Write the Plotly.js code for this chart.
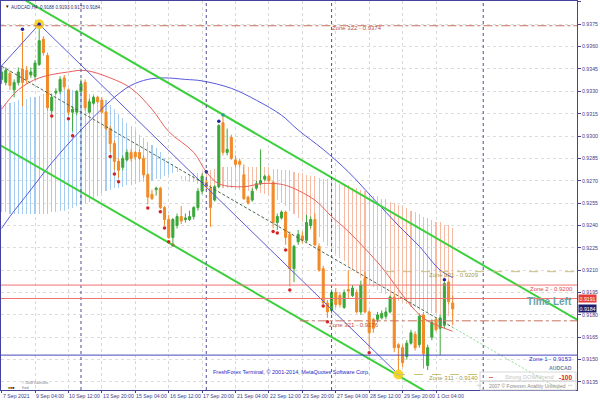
<!DOCTYPE html>
<html><head><meta charset="utf-8">
<script src="https://cdn.plot.ly/plotly-3.0.1.min.js"></script>
<style>html,body{margin:0;padding:0;background:#fff}#c{width:600px;height:401px}</style>
</head><body><div id="c"></div><script>
// ---- candles (AUDCAD H4), bar 0 = 7 Sep 2021 20:00 ----
const open=[0.9338,0.9336,0.9342,0.9331,0.9336,0.9345,0.9344,0.9341,0.9340,0.9348,
0.9365,0.9354,0.9317,0.9329,0.9330,0.9339,0.9331,0.9316,0.9316,0.9330,
0.9336,0.9316,0.9322,0.9326,0.9324,0.9316,0.9305,0.9295,0.9283,0.9279,
0.9284,0.9289,0.9289,0.9289,0.9285,0.9274,0.9261,0.9264,0.9265,0.9252,
0.9244,0.9232,0.9240,0.9246,0.9244,0.9244,0.9246,0.9252,0.9263,0.9269,
0.9265,0.9257,0.9266,0.9309,0.9289,0.9299,0.9284,0.9283,0.9274,0.9259,
0.9257,0.9265,0.9268,0.9271,0.9273,0.9269,0.9242,0.9245,0.9249,0.9234,
0.9211,0.9229,0.9233,0.9230,0.9240,0.9244,0.9226,0.9211,0.9188,0.9183,
0.9195,0.9193,0.9185,0.9197,0.9193,0.9195,0.9182,0.9205,0.9182,0.9177,
0.9177,0.9178,0.9179,0.9182,0.9192,0.9160,0.9158,0.9152,0.9161,0.9167,
0.9160,0.9180,0.9146,0.9165,0.9177,0.9171,0.9173,0.9202,0.9188];
const high=[0.9347,0.9346,0.9344,0.9338,0.9346,0.9370,0.9347,0.9346,0.9351,0.9375,
0.9367,0.9356,0.9328,0.9332,0.9340,0.9341,0.9332,0.9320,0.9331,0.9338,
0.9338,0.9325,0.9327,0.9327,0.9326,0.9317,0.9307,0.9297,0.9285,0.9287,
0.9291,0.9291,0.9290,0.9291,0.9287,0.9275,0.9264,0.9266,0.9266,0.9253,
0.9247,0.9245,0.9248,0.9253,0.9248,0.9250,0.9253,0.9265,0.9275,0.9271,
0.9267,0.9267,0.9308,0.9313,0.9305,0.9301,0.9287,0.9285,0.9281,0.9260,
0.9265,0.9270,0.9291,0.9274,0.9274,0.9270,0.9248,0.9250,0.9250,0.9236,
0.9227,0.9237,0.9236,0.9247,0.9246,0.9248,0.9228,0.9213,0.9190,0.9197,
0.9198,0.9195,0.9197,0.9210,0.9200,0.9197,0.9203,0.9209,0.9183,0.9178,
0.9182,0.9183,0.9185,0.9193,0.9194,0.9161,0.9160,0.9163,0.9170,0.9169,
0.9181,0.9182,0.9160,0.9177,0.9178,0.9180,0.9202,0.9203,0.9193];
const low=[0.9335,0.9334,0.9331,0.9326,0.9334,0.9320,0.9335,0.9339,0.9338,0.9347,
0.9354,0.9317,0.9315,0.9328,0.9328,0.9331,0.9314,0.9303,0.9314,0.9329,
0.9317,0.9315,0.9321,0.9322,0.9315,0.9304,0.9289,0.9277,0.9272,0.9277,
0.9283,0.9283,0.9284,0.9284,0.9272,0.9254,0.9257,0.9260,0.9251,0.9240,
0.9231,0.9228,0.9238,0.9241,0.9242,0.9243,0.9244,0.9250,0.9261,0.9264,
0.9239,0.9256,0.9265,0.9287,0.9287,0.9284,0.9279,0.9279,0.9257,0.9254,
0.9256,0.9264,0.9267,0.9270,0.9269,0.9238,0.9237,0.9244,0.9227,0.9199,
0.9202,0.9227,0.9228,0.9229,0.9238,0.9226,0.9209,0.9187,0.9178,0.9181,
0.9185,0.9185,0.9184,0.9191,0.9192,0.9181,0.9180,0.9181,0.9157,0.9168,
0.9175,0.9177,0.9177,0.9181,0.9155,0.9140,0.9145,0.9150,0.9160,0.9156,
0.9158,0.9144,0.9143,0.9163,0.9169,0.9153,0.9171,0.9187,0.9173];
const close=[0.9343,0.9344,0.9334,0.9336,0.9343,0.9336,0.9338,0.9343,0.9349,0.9364,
0.9356,0.9319,0.9326,0.9330,0.9338,0.9333,0.9316,0.9318,0.9330,0.9335,
0.9319,0.9323,0.9326,0.9323,0.9316,0.9305,0.9295,0.9283,0.9277,0.9285,
0.9289,0.9285,0.9286,0.9285,0.9274,0.9259,0.9258,0.9265,0.9252,0.9244,
0.9232,0.9244,0.9246,0.9243,0.9245,0.9246,0.9252,0.9263,0.9273,0.9266,
0.9252,0.9266,0.9307,0.9289,0.9291,0.9285,0.9281,0.9281,0.9258,0.9255,
0.9263,0.9268,0.9270,0.9273,0.9270,0.9242,0.9246,0.9249,0.9232,0.9211,
0.9226,0.9234,0.9230,0.9242,0.9244,0.9227,0.9210,0.9188,0.9182,0.9195,
0.9187,0.9187,0.9195,0.9196,0.9198,0.9182,0.9200,0.9182,0.9168,0.9171,
0.9180,0.9181,0.9182,0.9192,0.9158,0.9158,0.9148,0.9161,0.9168,0.9158,
0.9179,0.9154,0.9158,0.9175,0.9170,0.9178,0.9201,0.9189,0.9184];

// ---- time axis labels (bar index -> label) ----
const tickIdx=[0,8,16,24,32,40,48,56,64,72,80,88,96,104];
const tickText=["7 Sep 2021","9 Sep 04:00","10 Sep 12:00","13 Sep 20:00","15 Sep 04:00","16 Sep 12:00",
"17 Sep 20:00","21 Sep 04:00","22 Sep 12:00","23 Sep 20:00","27 Sep 04:00","28 Sep 12:00","29 Sep 20:00","1 Oct 04:00"];
const sepIdx=[19,49,79,115.3];

// ---- histogram indicator (blue: bars 0..42, salmon: bars 43..108) ----
const blueTop=[0.9321,0.9322,0.9322,0.9323,0.9324,0.9324,0.9325,0.9326,0.9326,0.9327,
0.9328,0.9328,0.9329,0.9330,0.9330,0.9331,0.9331,0.9331,0.9330,0.9330,
0.9329,0.9328,0.9328,0.9327,0.9326,0.9324,0.9321,0.9318,0.9315,0.9312,
0.9309,0.9307,0.9304,0.9301,0.9299,0.9296,0.9294,0.9292,0.9289,0.9285,
0.9283,0.9281,0.9279];
const blueBot=[0.9249,0.9249,0.9248,0.9248,0.9248,0.9248,0.9248,0.9248,0.9248,0.9248,
0.9248,0.9248,0.9249,0.9249,0.9250,0.9250,0.9251,0.9252,0.9253,0.9254,
0.9255,0.9256,0.9258,0.9260,0.9262,0.9263,0.9264,0.9265,0.9265,0.9266,
0.9267,0.9267,0.9268,0.9269,0.9269,0.9269,0.9270,0.9271,0.9271,0.9273,
0.9274,0.9275,0.9276];
const salmonStart=43;
const salmonTop=[0.9273,0.9273,0.9274,0.9275,0.9275,0.9276,0.9277,0.9277,0.9278,0.9279,
0.9279,0.9279,0.9279,0.9279,0.9279,0.9279,0.9279,0.9279,0.9279,0.9279,
0.9279,0.9279,0.9278,0.9278,0.9277,0.9277,0.9277,0.9276,0.9275,0.9275,
0.9274,0.9273,0.9273,0.9272,0.9271,0.9271,0.9270,0.9269,0.9268,0.9267,
0.9267,0.9265,0.9265,0.9264,0.9263,0.9262,0.9260,0.9260,0.9258,0.9258,
0.9256,0.9255,0.9254,0.9253,0.9252,0.9250,0.9249,0.9248,0.9246,0.9245,
0.9244,0.9242,0.9242,0.9240,0.9240,0.9238];
const salmonBot=[0.9271,0.9270,0.9269,0.9269,0.9268,0.9267,0.9267,0.9266,0.9265,0.9265,
0.9265,0.9265,0.9265,0.9264,0.9264,0.9264,0.9263,0.9263,0.9263,0.9262,
0.9261,0.9260,0.9258,0.9257,0.9255,0.9253,0.9250,0.9248,0.9245,0.9242,
0.9240,0.9237,0.9234,0.9232,0.9229,0.9226,0.9224,0.9221,0.9218,0.9216,
0.9213,0.9210,0.9208,0.9205,0.9203,0.9201,0.9199,0.9197,0.9195,0.9194,
0.9192,0.9191,0.9189,0.9188,0.9187,0.9185,0.9185,0.9183,0.9183,0.9182,
0.9181,0.9181,0.9180,0.9179,0.9179,0.9178];

// ---- moving averages (sampled) ----
const maRedIdx=[0,4,9,16,20,26,31,36,40,46,49,52,58,62,66,69,75,79,83,91,95,99,102,108];
const maRed=[0.9318,0.9331,0.9339,0.9343,0.9344,0.9339,0.9332,0.9318,0.9303,0.9289,0.9276,0.9268,
0.9266,0.9268,0.9268,0.9266,0.9257,0.9246,0.9236,0.9212,0.9197,0.9183,0.9176,0.9169];
const maBlueIdx=[0,2,7,12,19,27,31,35,39,44,48,55,61,67,71,77,83,89,95,100,105,108];
const maBlue=[0.9238,0.9246,0.9264,0.9282,0.9304,0.9326,0.9334,0.9338,0.9339,0.9338,0.9337,
0.9332,0.9324,0.9314,0.9304,0.9291,0.9276,0.9258,0.9240,0.9226,0.9210,0.9205];

// ---- zigzag & channel ----
const zigIdx=[-1,9,95];
const zigVal=[0.9344,0.9375,0.9140];
const chanIdx=[-1,140];
const chanUpper=[0.94020,0.91732];
const chanLower=[0.92950,0.90662];
const midIdx=[-1,108];
const midVal=[0.93485,0.91716];
const midFutIdx=[108,140];
const midFutVal=[0.91716,0.91197];

// ---- fractals / markers ----
const fracLoIdx=[12,16,17,26,27,28,35,38,39,40,65,66,68,69,77,78,88];
const fracLo=[0.93135,0.93116,0.93002,0.92862,0.92745,0.92694,0.92517,0.92492,0.92383,0.92290,
0.92360,0.92350,0.92235,0.91967,0.91860,0.91754,0.91546];
const fracHiIdx=[5,49,52,106];
const fracHi=[0.93716,0.92761,0.93100,0.92035];
const pivotIdx=[9,95];
const pivotVal=[0.9375,0.9140];
const touchIdx=[41,53];
const touchVal=[0.92269,0.93141];

// ---- zones ----
const zoneNames=["Zone 322","Zone 331","Zone 2","Zone 321","Zone 1","Zone 311"];
const zonePrices=[0.9374,0.9209,0.9200,0.9176,0.9153,0.9140];
const askPrice=0.9191;

const N=open.length;
const idx=open.map((_,i)=>i);
const F="Liberation Sans, Arial, sans-serif";

const traces=[];
traces.push({type:'bar',x:blueTop.map((_,i)=>i),base:blueBot,y:blueTop.map((t,i)=>t-blueBot[i]),
  width:0.26,marker:{color:'#a6cdf0',line:{width:0}},hoverinfo:'skip'});
traces.push({type:'bar',x:salmonTop.map((_,i)=>i+salmonStart),base:salmonBot,y:salmonTop.map((t,i)=>t-salmonBot[i]),
  width:0.26,marker:{color:'#f6bba4',line:{width:0}},hoverinfo:'skip'});
traces.push({type:'candlestick',x:idx,open:open,high:high,low:low,close:close,
  increasing:{line:{color:'#3aa73a',width:1},fillcolor:'#3aa73a'},
  decreasing:{line:{color:'#f28a26',width:1},fillcolor:'#f28a26'},whiskerwidth:0,hoverinfo:'skip'});
traces.push({type:'scatter',mode:'lines',x:maRedIdx,y:maRed,line:{color:'#e8605a',width:1,shape:'spline'}});
traces.push({type:'scatter',mode:'lines',x:maBlueIdx,y:maBlue,line:{color:'#5858dc',width:1,shape:'spline'}});
traces.push({type:'scatter',mode:'lines',x:zigIdx,y:zigVal,line:{color:'#5a5ad8',width:1}});
traces.push({type:'scatter',mode:'lines',x:midIdx,y:midVal,line:{color:'#4a664a',width:1,dash:'3px,2px'}});
traces.push({type:'scatter',mode:'lines',x:midFutIdx,y:midFutVal,line:{color:'#8fdc8f',width:1,dash:'2px,2px'}});
traces.push({type:'scatter',mode:'lines',x:chanIdx,y:chanUpper,line:{color:'#3ccf3c',width:2}});
traces.push({type:'scatter',mode:'lines',x:chanIdx,y:chanLower,line:{color:'#3ccf3c',width:2}});
traces.push({type:'scatter',mode:'markers',x:pivotIdx,y:pivotVal,marker:{size:10,color:'#f6d21e',opacity:0.9}});
traces.push({type:'scatter',mode:'markers',x:fracLoIdx,y:fracLo,marker:{size:3.5,color:'#d42424'}});
traces.push({type:'scatter',mode:'markers',x:fracHiIdx,y:fracHi,marker:{size:3.5,color:'#2424a8'}});
traces.push({type:'scatter',mode:'markers',x:[pivotIdx[0]],y:[pivotVal[0]],marker:{size:3.5,color:'#2424a8'}});
traces.push({type:'scatter',mode:'markers',x:touchIdx,y:touchVal,marker:{size:3.5,color:['#7a8a30','#2a9d8f']}});

const shapes=[];
sepIdx.forEach(s=>shapes.push({type:'line',xref:'x',yref:'paper',x0:s,x1:s,y0:0,y1:1,line:{color:'#50508a',width:1,dash:'dot'}}));
const zStyle=[
  {c:'#c8705c',d:'dashdot',x0:-1,x1:140},
  {c:'#c9c07a',d:'dash',x0:91.8,x1:140},
  {c:'#f07474',d:'solid',x0:-1,x1:140},
  {c:'#c8705c',d:'dashdot',x0:71.4,x1:140},
  {c:'#4646c0',d:'solid',x0:-1,x1:140},
  {c:'#c9c07a',d:'dash',x0:94.4,x1:114.5}];
zonePrices.forEach((p,i)=>shapes.push({type:'line',xref:'x',yref:'y',x0:zStyle[i].x0,x1:zStyle[i].x1,y0:p,y1:p,
  line:{color:zStyle[i].c,width:1,dash:zStyle[i].d}}));
shapes.push({type:'line',xref:'x',yref:'y',x0:-1,x1:140,y0:askPrice,y1:askPrice,line:{color:'#f07474',width:1}});
// info box frame
shapes.push({type:'rect',xref:'paper',yref:'paper',x0:(480-1)/576,x1:(576-1)/576,y0:1-(381-1)/389,y1:1-(372-1)/389,line:{color:'#d8d8d8',width:1}});
shapes.push({type:'rect',xref:'paper',yref:'paper',x0:(480-1)/576,x1:(576-1)/576,y0:1-(390-1)/389,y1:1-(381-1)/389,line:{color:'#d8d8d8',width:1}});

const ann=[];
function A(o){ann.push(Object.assign({showarrow:false,font:{family:F,size:5.2,color:'#333'}},o));}
// time labels, left-aligned at their bar
tickIdx.forEach((t,i)=>A({x:t,xanchor:'left',xshift:-1,yref:'paper',y:0,yanchor:'top',yshift:-1,text:tickText[i],font:{family:F,size:5.2,color:'#3c3c8c'}}));
A({xref:'paper',x:0,xshift:2,xanchor:'left',yref:'paper',y:1,yshift:-1,yanchor:'top',text:'▼',font:{family:F,size:4.5,color:'#111'}});
A({xref:'paper',x:0,xshift:8,xanchor:'left',yref:'paper',y:1,yshift:-1.5,yanchor:'top',
  text:'AUDCAD,H4  '+[open[N-1],high[N-1],low[N-1],close[N-1]].map(v=>v.toFixed(4)).join(' '),font:{family:F,size:4.6,color:'#2c2c70'}});
const zl=(i)=>zoneNames[i]+' - '+zonePrices[i].toFixed(4);
A({x:78.6,xanchor:'left',y:0.93725,yanchor:'middle',text:zl(0),font:{family:F,size:6,color:'#b9533e'}});
A({x:101.8,xanchor:'left',y:0.92068,yanchor:'middle',text:zl(1),font:{family:F,size:6,color:'#a59d4c'}});
A({xref:'paper',x:(575-1)/576,xanchor:'right',y:0.91974,yanchor:'middle',text:zl(2),font:{family:F,size:6,color:'#e04848'}});
A({x:77.9,xanchor:'left',y:0.91732,yanchor:'middle',text:zl(3),font:{family:F,size:6,color:'#c0503e'}});
A({xref:'paper',x:(574-1)/576,xanchor:'right',y:0.91504,yanchor:'middle',text:zl(4),font:{family:F,size:6,color:'#3434c8'}});
A({x:101.8,xanchor:'left',y:0.91377,yanchor:'middle',text:zl(5),font:{family:F,size:6,color:'#a59d4c'}});
A({xref:'paper',x:(574-1)/576,xanchor:'right',y:0.91887,yanchor:'middle',text:'<b>Time Left</b>',font:{family:F,size:10,color:'#6aa2ab'}});
A({x:50.1,xanchor:'left',y:0.91417,yanchor:'middle',text:'FreshForex Terminal, © 2001-2014, MetaQuotes Software Corp.',font:{family:F,size:5.5,color:'#2626c4'}});
A({xref:'paper',x:(574-1)/576,xanchor:'right',y:0.91444,yanchor:'middle',text:'<b>AUDCAD</b>',font:{family:F,size:5.2,color:'#6a86a6'}});
A({x:120.0,xanchor:'left',y:0.91383,yanchor:'middle',text:'Strong DOWNtrend',font:{family:F,size:5.6,color:'#c4c4c4'}});
A({xref:'paper',x:(574-1)/576,xanchor:'right',y:0.91383,yanchor:'middle',text:'<b>-100</b>',font:{family:F,size:6.5,color:'#e02020'}});
A({x:116.2,xanchor:'left',y:0.91383,yanchor:'middle',text:'▪▪▪',font:{family:F,size:4,color:'#e02020'}});
A({x:113.3,xanchor:'left',y:0.91323,yanchor:'middle',text:'‹‹‹',font:{family:F,size:4,color:'#9a9a9a'}});
A({x:116.2,xanchor:'left',y:0.91323,yanchor:'middle',text:'2007 © Forexsm Analitiy Unlimited',font:{family:F,size:5,color:'#8a8a8a'}});
A({xref:'paper',x:(575-1)/576,xanchor:'right',y:0.91323,yanchor:'middle',text:'›››',font:{family:F,size:4,color:'#9a9a9a'}});
A({x:1.0,xanchor:'left',y:0.91310,yanchor:'middle',text:'<span style="color:#2a9a2a">■</span><span style="color:#d02020">■</span><span style="color:#222">■</span>',font:{family:F,size:3.5,color:'#222'}});
A({x:4.4,xanchor:'left',y:0.91345,yanchor:'middle',text:'© 2008 KashUtils',font:{family:F,size:3.4,color:'#777'}});
A({x:4.4,xanchor:'left',y:0.91310,yanchor:'middle',text:'Kwd',font:{family:F,size:3.4,color:'#777'}});
A({xref:'paper',x:1,xshift:1,xanchor:'left',y:askPrice,yanchor:'middle',text:askPrice.toFixed(4),bgcolor:'#e63c3c',borderpad:0.6,font:{family:F,size:5.2,color:'#fff'}});
A({xref:'paper',x:1,xshift:1,xanchor:'left',y:close[N-1],yanchor:'middle',text:close[N-1].toFixed(4),bgcolor:'#1e1e6e',borderpad:0.6,font:{family:F,size:5.2,color:'#fff'}});

const axisCol='#44449a';
const layout={
  width:600,height:401,margin:{l:1,r:23,t:1,b:11},
  paper_bgcolor:'#fff',plot_bgcolor:'#fff',showlegend:false,
  font:{family:F,size:5.2,color:'#3c3c8c'},
  bargap:0,
  xaxis:{range:[-0.144,137.75],tickmode:'array',tickvals:tickIdx,ticktext:tickText,showticklabels:false,
    ticks:'outside',ticklen:2,tickcolor:axisCol,
    showgrid:true,gridcolor:'#d8d8d8',griddash:'dot',gridwidth:1,
    showline:true,linecolor:axisCol,linewidth:1,mirror:true,zeroline:false,rangeslider:{visible:false},fixedrange:true},
  yaxis:{side:'right',range:[0.91296,0.93906],tickmode:'linear',tick0:0.9135,dtick:0.0015,tickformat:'.4f',
    ticks:'outside',ticklen:3,tickcolor:axisCol,tickfont:{family:F,size:5.2,color:'#3c3c8c'},
    showgrid:true,gridcolor:'#dcdcdc',griddash:'dot',gridwidth:1,
    showline:true,linecolor:axisCol,linewidth:1,mirror:true,zeroline:false,fixedrange:true},
  shapes:shapes,annotations:ann
};
Plotly.newPlot('c',traces,layout,{staticPlot:true,displayModeBar:false});
</script></body></html>
